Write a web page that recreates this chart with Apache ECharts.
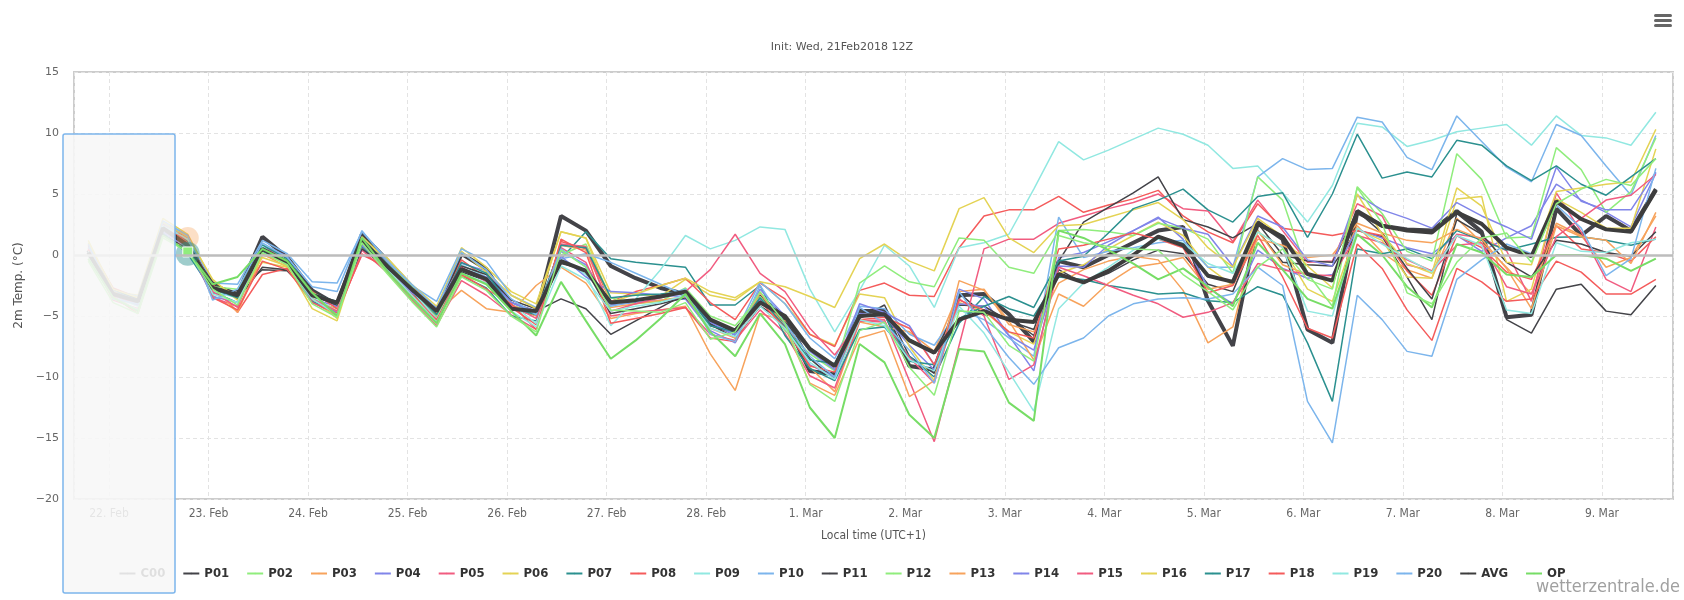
<!DOCTYPE html>
<html>
<head>
<meta charset="utf-8">
<script src="https://cdn.jsdelivr.net/npm/echarts@6/dist/echarts.min.js"></script>
<style>
  html, body { margin: 0; padding: 0; background: #fff; }
  #chartContainer { width: 1684px; height: 600px; }
</style>
</head>
<body>
<div id="chartContainer"></div>
<script>
// 6-hourly steps, first one 21 Feb 19:00 local (UTC+1)
var startTime = Date.UTC(2018, 1, 21, 19, 0);
var stepHours = 6;
var monthNames = ['Jan','Feb','Mar','Apr','May','Jun','Jul','Aug','Sep','Oct','Nov','Dec'];

var seriesNames = ['C00','P01','P02','P03','P04','P05','P06','P07','P08','P09','P10',
                   'P11','P12','P13','P14','P15','P16','P17','P18','P19','P20','AVG','OP'];
var seriesColors = ['#434348','#434348','#90ed7d','#f7a35c','#8085e9','#f15c80','#e4d354','#2b908f','#f45b5b','#91e8e1','#7cb5ec',
                    '#434348','#90ed7d','#f7a35c','#8085e9','#f15c80','#e4d354','#2b908f','#f45b5b','#91e8e1','#7cb5ec','#3d3d3d','#77dd66'];

var c00 = [0.4,-3.0,-3.8,2.1,1.0,-2.5,-3.2,1.5,-0.2,-2.9, -4.1,1.7,-0.4,-2.6,-4.85,0.1,-1.15,-4.3,-4.85,3.2, 2.0,-0.9,-1.9,-2.7,-3.2,-5.6,-6.4,-3.6,-5.3,-9.5, -9.8,-4.6,-4.6,-9.1,-9.4,-3.3,-3.2,-4.85,-7.1,-0.5, -1.0,0.0,1.0,2.0,2.3,-3.75,-7.45,2.7,1.3,-6.1, -7.2,3.5,2.4,2.1,2.0,3.6,1.9,-5.1,-4.9,3.8, 1.6,3.2,2.0,5.4];
var p01 = [0.0,-3.1,-3.9,1.7,0.5,-3.2,-2.9,-1.2,-1.3,-3.4, -3.9,0.8,-1.0,-2.9,-4.8,-1.4,-2.1,-3.9,-4.6,-3.6, -4.4,-6.5,-5.4,-4.3,-3.2,-5.8,-6.4,-3.3,-5.0,-8.5, -10.2,-5.2,-4.1,-8.3,-9.7,-3.1,-4.9,-5.1,-6.6,-1.2, -2.3,-1.5,-0.4,0.4,0.1,-2.4,-3.0,2.0,-0.6,-0.8, -0.9,2.0,1.5,-1.8,-5.3,3.4,1.8,-5.3,-6.4,-2.8, -2.4,-4.6,-4.9,-2.5];
var p02 = [-0.5,-3.9,-4.8,1.4,0.25,-2.8,-4.1,0.2,-0.8,-4.0, -5.1,1.0,-1.5,-3.8,-5.9,-1.8,-2.9,-5.0,-6.3,0.4, -1.0,-4.5,-4.6,-4.7,-3.9,-6.9,-6.3,-3.0,-5.6,-10.6, -12.0,-6.2,-5.5,-9.2,-11.5,-4.6,-4.7,-7.4,-8.7,1.6, 1.0,0.7,0.5,0.4,-1.6,-3.0,-4.5,-1.0,0.5,-2.0, -2.8,5.5,2.6,-3.1,-4.0,-0.6,1.4,1.8,-0.6,4.2, 5.4,6.2,5.7,7.9];
var p03 = [0.6,-3.3,-4.6,2.6,1.4,-3.3,-4.6,0.1,-1.0,-3.7, -4.4,0.6,-1.2,-3.0,-4.7,-2.9,-4.4,-4.7,-2.5,-1.0, -2.3,-5.2,-4.8,-4.5,-4.2,-8.1,-11.1,-4.8,-5.4,-9.2, -11.2,-5.5,-5.9,-6.3,-7.9,-3.0,-2.8,-5.7,-6.3,-2.3, -1.2,-0.5,-0.1,-0.4,-2.9,-7.2,-5.9,2.0,-0.8,-1.6, -2.1,2.4,0.2,-1.2,-1.9,3.0,1.0,-1.0,-3.2,2.6, 1.6,-1.0,-0.2,3.2];
var p04 = [0.7,-2.9,-3.7,2.1,1.2,-3.1,-3.3,0.8,-0.1,-3.6, -4.2,1.4,-0.6,-2.7,-4.4,-0.7,-1.3,-3.9,-4.8,0.3, -0.8,-4.1,-3.9,-3.7,-3.6,-6.2,-7.2,-3.6,-5.7,-9.0, -10.0,-4.8,-5.0,-7.4,-9.4,-2.8,-3.6,-6.6,-9.5,-0.2, 0.2,1.1,2.0,3.1,1.3,-2.7,-4.0,0.4,-1.1,-1.9, -1.6,2.1,1.4,0.6,0.1,1.6,0.3,1.4,2.4,5.8, 4.5,3.5,2.3,6.7];
var p05 = [0.1,-3.7,-4.4,2.0,1.4,-3.5,-4.2,0.6,-0.9,-3.8, -5.0,0.4,-1.4,-3.7,-5.8,-2.1,-3.3,-4.9,-6.1,0.6, -0.6,-5.0,-4.7,-4.5,-4.3,-6.5,-7.0,-4.5,-6.4,-9.9, -10.9,-5.4,-5.3,-10.3,-15.3,-7.4,0.5,1.3,1.3,2.6, 3.2,3.8,4.3,5.0,3.8,3.6,1.1,4.5,2.0,-0.6, -0.5,4.2,3.2,-0.8,-1.3,1.7,1.4,0.35,-3.8,5.1, 1.9,-2.0,-3.0,2.3];
var p06 = [1.2,-3.0,-3.3,3.0,1.7,-2.2,-3.4,-0.6,-1.0,-3.5, -5.2,1.5,-0.4,-2.6,-4.5,0.6,-1.0,-3.0,-4.0,1.9, 1.4,-3.1,-3.2,-3.4,-2.0,-3.3,-3.7,-2.2,-4.0,-6.5, -7.4,-3.2,-3.5,-7.5,-10.3,-3.9,-4.6,-6.3,-7.3,-1.5, -0.8,0.5,1.6,2.7,1.6,-1.0,-2.5,1.9,0.6,-2.8, -3.8,2.1,1.2,-1.8,-1.9,4.6,4.8,-3.8,-2.8,4.6, 3.5,2.2,2.2,8.7];
var p07 = [0.0,-2.9,-3.6,1.8,0.1,-3.0,-3.9,0.3,-0.7,-3.8, -4.7,0.7,-1.2,-3.1,-5.1,-1.7,-2.7,-5.0,-5.4,-0.3, 1.9,-0.3,-0.6,-0.8,-1.0,-4.1,-4.1,-2.5,-6.6,-9.3, -10.3,-6.1,-5.9,-8.3,-10.0,-5.6,-3.4,-4.4,-5.0,-1.8, -2.0,-2.5,-2.8,-3.2,-3.1,-3.75,-3.9,-2.6,-3.3,-7.2, -12.0,0.5,0.1,0.5,-0.3,2.0,1.2,0.4,0.9,1.45, 1.5,1.2,0.8,1.3];
var p08 = [0.8,-2.7,-3.5,2.0,1.6,-2.4,-4.7,-1.6,-1.1,-3.0, -4.4,0.9,-0.6,-3.2,-5.1,-0.4,-1.9,-4.3,-5.7,1.1, 0.5,-3.8,-3.0,-2.5,-1.9,-3.9,-5.3,-2.3,-3.6,-6.5, -7.5,-2.9,-2.3,-3.3,-3.4,0.6,3.2,3.7,3.7,4.8, 3.5,4.1,4.6,5.3,3.2,1.9,1.0,4.2,2.2,1.9, 1.6,2.0,1.6,-1.3,-3.3,1.6,0.6,-1.4,-2.0,2.4, 0.5,0.2,-0.5,1.5];
var p09 = [0.0,-3.4,-4.2,2.0,1.2,-3.0,-3.5,0.9,-0.5,-3.4, -4.6,1.4,-0.8,-2.9,-5.2,-0.8,-1.8,-4.0,-5.6,-0.2, -1.6,-5.8,-3.6,-1.2,1.6,0.5,1.2,2.3,2.1,-2.8, -6.3,-2.9,0.8,-0.9,-4.3,0.6,1.0,1.7,5.4,9.3, 7.8,8.6,9.5,10.4,9.9,9.0,7.1,7.3,5.1,2.7, 5.7,10.8,10.5,8.9,9.4,10.1,10.4,10.7,9.0,11.4, 9.8,9.6,9.0,11.7];
var p10 = [0.6,-2.9,-3.4,2.6,1.5,-2.3,-2.4,1.2,0.1,-2.2, -2.3,1.9,-0.3,-2.5,-3.8,0.5,-0.5,-3.3,-4.3,-0.3, 0.1,-0.6,-1.5,-2.4,-3.3,-5.5,-6.5,-2.2,-4.0,-6.8, -8.5,-4.2,-4.4,-6.5,-7.4,-4.5,-5.3,-6.8,-8.3,3.1, -0.2,0.3,0.6,1.0,1.2,-1.0,-1.0,6.4,7.9,7.0, 7.1,11.3,10.9,8.0,7.0,11.4,9.3,7.2,6.0,10.7, 9.8,7.3,4.9,9.8];
var p11 = [0.3,-2.8,-3.6,1.9,0.7,-2.2,-3.6,-1.0,-1.2,-3.3, -4.1,0.5,-1.0,-3.0,-4.5,-0.9,-1.6,-3.7,-4.4,-0.7, -1.2,-4.8,-4.4,-4.0,-3.5,-5.7,-6.8,-4.2,-5.5,-7.8, -9.1,-5.1,-4.7,-6.9,-8.0,-4.1,-4.2,-5.4,-6.1,-0.5, 2.7,3.9,5.1,6.4,2.9,2.3,1.4,2.6,0.0,-0.5, -0.6,3.6,1.8,-1.1,-3.6,2.9,1.7,-0.6,-1.8,1.2, 0.9,0.2,-0.1,1.9];
var p12 = [0.1,-3.2,-4.0,2.3,0.9,-2.6,-2.8,0.4,-0.4,-3.1, -4.0,1.3,-0.7,-2.6,-5.0,-1.2,-1.9,-4.1,-4.8,0.0, 0.9,-3.5,-4.0,-3.8,-2.7,-5.0,-5.8,-3.4,-6.2,-8.1, -9.5,-2.3,-0.9,-2.2,-2.6,1.4,1.2,-1.0,-1.5,2.0, 2.1,1.9,1.6,2.6,2.2,1.3,-1.5,6.4,4.5,-1.5, -4.2,5.6,3.4,0.3,-0.5,8.3,6.2,1.4,1.5,8.8, 7.0,3.5,5.2,9.6];
var p13 = [0.4,-3.0,-4.0,2.2,1.1,-2.6,-4.7,0.0,-0.6,-3.6, -4.6,1.0,-0.8,-3.3,-5.4,-1.7,-2.3,-4.1,-5.0,0.8, 0.4,-4.3,-4.0,-3.7,-3.4,-6.0,-6.8,-3.1,-5.9,-10.5, -11.5,-6.8,-6.2,-11.6,-10.3,-2.1,-2.9,-5.4,-8.6,-3.2, -4.2,-2.3,-1.0,-0.7,-0.2,-2.8,-2.4,1.3,0.8,-0.2, 0.0,2.6,1.8,1.2,1.0,2.1,1.3,-1.1,-4.4,2.4, 1.5,1.2,-0.7,3.5];
var p14 = [0.2,-3.3,-4.1,1.9,0.6,-3.4,-3.9,0.4,-0.5,-3.9, -4.7,0.8,-1.1,-3.1,-4.3,-1.1,-1.8,-3.9,-4.6,-0.1, -1.8,-3.0,-3.1,-3.3,-3.4,-5.5,-6.6,-2.8,-5.0,-7.9, -9.4,-4.0,-4.7,-5.8,-9.0,-4.0,-4.2,-6.6,-7.8,-0.9, -1.0,0.8,2.0,3.0,2.2,1.7,-0.9,3.2,2.3,-0.4, -0.9,4.9,3.7,3.0,2.2,4.3,3.2,2.3,1.3,7.2, 4.4,3.7,3.7,6.8];
var p15 = [0.5,-3.3,-4.0,2.5,1.1,-3.0,-4.3,0.8,-0.6,-3.6, -4.6,0.0,-0.9,-3.5,-5.5,-1.0,-2.2,-4.1,-5.2,0.9, 0.7,-4.6,-4.0,-3.5,-3.0,-1.2,1.7,-1.5,-3.0,-6.0, -8.2,-5.4,-5.5,-8.4,-10.5,-3.6,-5.0,-10.2,-9.0,-1.0, -1.7,-2.5,-3.3,-4.0,-5.1,-4.7,-3.9,-0.7,-1.2,-1.6, -1.7,1.6,1.0,-0.4,-1.3,0.8,1.0,-2.6,-3.2,1.5, 3.0,4.5,4.9,6.6];
var p16 = [1.0,-2.8,-3.5,2.7,1.5,-2.0,-3.7,-0.2,-0.9,-4.4, -5.4,1.1,-0.2,-2.4,-4.2,0.3,-1.4,-3.3,-4.4,1.9, 1.4,-3.9,-3.2,-2.5,-1.9,-3.0,-3.5,-2.2,-2.6,-3.4, -4.3,-0.3,0.9,-0.5,-1.3,3.8,4.7,1.4,0.2,2.4, 2.5,3.1,3.7,4.3,2.9,0.6,-1.0,3.0,1.5,-0.9, -2.7,5.0,1.7,-0.7,-1.5,5.5,4.0,-0.6,-0.8,5.2, 5.5,5.8,6.0,10.3];
var p17 = [0.2,-3.1,-3.9,2.2,1.1,-2.8,-3.5,0.8,-0.3,-3.2, -3.8,1.3,-0.7,-2.8,-4.9,-0.6,-1.5,-4.3,-4.9,0.8, 0.6,-3.5,-3.3,-3.2,-3.0,-5.8,-6.3,-3.5,-5.9,-8.6, -8.9,-4.9,-4.9,-8.7,-9.0,-5.2,-4.2,-3.4,-4.3,-0.5, -0.1,1.8,3.8,4.5,5.4,3.7,2.7,4.8,5.1,1.45, 5.0,9.9,6.3,6.8,6.4,9.4,9.0,7.3,6.1,7.3, 5.8,4.9,6.4,7.9];
var p18 = [0.4,-3.4,-4.8,2.4,1.0,-3.5,-4.5,-0.5,-1.2,-3.9, -4.8,0.1,-1.1,-3.4,-5.3,-1.6,-2.8,-4.0,-6.1,1.3, 0.2,-5.6,-5.2,-4.8,-4.3,-6.8,-7.1,-3.8,-6.0,-9.1, -9.6,-5.3,-5.1,-6.0,-9.0,-3.7,-4.5,-6.3,-6.8,0.5, 0.8,1.3,1.8,1.3,0.6,-3.1,-2.5,1.6,-1.8,-6.0, -6.8,0.9,-1.1,-4.5,-7.0,-1.1,-2.2,-3.8,-3.6,-0.5, -1.4,-3.2,-3.2,-2.0];
var p19 = [0.3,-3.5,-4.5,2.4,1.3,-3.2,-3.9,0.7,-0.8,-3.6, -4.9,1.0,-1.1,-3.3,-5.5,-1.5,-2.3,-4.6,-5.9,-0.9, -2.0,-4.6,-4.2,-3.9,-3.3,-6.0,-6.7,-4.2,-6.0,-8.8, -10.2,-5.3,-5.8,-8.6,-9.5,-4.2,-6.4,-9.6,-12.8,-4.4, -2.3,-1.0,0.4,1.3,1.0,-0.7,-1.5,1.9,0.6,-4.6, -5.0,2.2,0.9,-0.3,-1.4,1.6,0.8,-4.5,-4.8,1.0, 0.3,0.2,1.0,1.3];
var p20 = [0.9,-3.6,-4.0,2.8,1.6,-3.7,-2.8,1.0,-0.2,-2.6, -3.0,2.0,-0.5,-2.4,-4.4,0.2,-1.2,-3.6,-4.9,0.5, -1.0,-4.2,-3.8,-3.4,-2.8,-6.5,-7.1,-2.5,-5.6,-8.3, -10.0,-4.3,-5.6,-7.8,-10.5,-3.0,-5.8,-8.4,-10.6,-7.6, -6.8,-5.0,-4.0,-3.6,-3.5,-3.6,-3.2,-1.0,-2.5,-12.0, -15.4,-3.3,-5.3,-7.9,-8.3,-2.0,-0.4,0.9,0.1,4.1, 2.2,-1.7,-0.3,7.1];
var avg = [0.2,-3.2,-3.8,2.2,0.8,-2.7,-3.3,0.5,-0.6,-3.3, -3.9,1.2,-0.9,-2.8,-4.6,-1.15,-1.97,-4.4,-4.6,-0.5, -1.3,-3.9,-3.7,-3.4,-3.0,-5.3,-6.2,-3.9,-5.0,-7.7, -9.1,-5.0,-4.85,-7.0,-8.0,-5.3,-4.6,-5.3,-5.5,-1.56, -2.25,-1.3,0.0,1.5,0.8,-1.7,-2.2,2.55,1.5,-1.56, -2.1,3.6,2.4,2.0,1.85,3.5,2.55,0.6,-0.1,4.4, 2.95,2.1,1.9,5.3];
var op  = [-0.3,-3.5,-4.6,1.6,0.3,-2.4,-1.8,0.5,-0.5,-3.1, -5.0,1.4,-1.3,-3.5,-5.6,-1.5,-2.4,-4.6,-6.6,-2.2, -5.4,-8.5,-7.0,-5.2,-3.2,-6.3,-8.3,-4.8,-7.3,-12.5, -15.0,-7.3,-8.8,-13.1,-15.0,-7.7,-7.9,-12.1,-13.6,2.0, 1.4,0.4,-0.7,-2.0,-1.1,-2.6,-4.2,1.0,-1.2,-3.6, -4.4,1.7,0.0,-2.6,-4.3,0.9,0.2,-1.6,-1.8,0.0, 0.0,-0.3,-1.3,-0.3];

var yTicks = [-20, -15, -10, -5, 0, 5, 10, 15];

var seriesValues = [c00,p01,p02,p03,p04,p05,p06,p07,p08,p09,p10,p11,p12,p13,p14,p15,p16,p17,p18,p19,p20,avg,op];

// the hovered point (tooltip position) in the screenshot
var hoverIndex = 4;

var narrow = "'Liberation Sans Narrow','DejaVu Sans Condensed','Roboto Condensed',sans-serif";

var times = [];
for (var i = 0; i < c00.length; i++) {
    times.push(startTime + i * stepHours * 3600000);
}

var series = [];
for (var k = 0; k < seriesNames.length; k++) {
    var name = seriesNames[k];
    var w = 1.5;
    if (name === 'C00' || name === 'AVG') w = 4;
    if (name === 'OP') w = 2;
    var data = seriesValues[k].map(function (v, i) { return [times[i], v]; });

    if (name === 'P03') {
        data[hoverIndex] = {value: data[hoverIndex], symbol: 'circle', symbolSize: 22,
            itemStyle: {color: 'rgba(247,163,92,0.35)'}};
    }
    if (name === 'P07') {
        data[hoverIndex] = {value: data[hoverIndex], symbol: 'circle', symbolSize: 24,
            itemStyle: {color: 'rgba(43,144,143,0.45)'}};
    }
    if (name === 'P02') {
        data[hoverIndex] = {value: data[hoverIndex], symbol: 'rect', symbolSize: 10,
            itemStyle: {color: '#90ed7d', borderColor: '#ffffff', borderWidth: 1}};
    }

    var s = {
        name: name,
        type: 'line',
        data: data,
        symbol: 'none',
        showSymbol: true,
        color: seriesColors[k],
        lineStyle: {width: w, color: seriesColors[k]},
        itemStyle: {color: seriesColors[k]},
        emphasis: {disabled: true},
        silent: true,
        z: name === 'P02' ? 3 : 2
    };
    if (k === 0) {
        s.markLine = {
            silent: true,
            symbol: 'none',
            label: {show: false},
            lineStyle: {color: '#bdbdbd', width: 2.5, type: 'solid'},
            data: [{yAxis: 0}]
        };
    }
    series.push(s);
}

var option = {
    useUTC: true,
    animation: false,
    backgroundColor: '#ffffff',
    title: {
        text: 'Init: Wed, 21Feb2018 12Z',
        left: 'center',
        top: 37,
        textStyle: {fontSize: 11, fontWeight: 'normal', color: '#555555', fontFamily: 'DejaVu Sans'}
    },
    grid: {
        left: 74,
        right: 11,
        top: 72,
        bottom: 101,
        show: true,
        borderColor: '#cccccc',
        borderWidth: 2
    },
    legend: {
        data: seriesNames,
        left: 'center',
        top: 562,
        itemWidth: 16,
        itemHeight: 2,
        itemGap: 17,
        textStyle: {fontSize: 13, fontWeight: 'bold', color: '#333333', fontFamily: narrow}
    },
    xAxis: {
        type: 'time',
        min: Date.UTC(2018, 1, 21, 15, 34),
        max: Date.UTC(2018, 2, 9, 17, 8),
        minInterval: 86400000,
        maxInterval: 86400000,
        name: 'Local time (UTC+1)',
        nameLocation: 'middle',
        nameGap: 31,
        nameTextStyle: {fontSize: 12, color: '#555555', fontFamily: narrow},
        axisLine: {show: false},
        axisTick: {show: false},
        axisLabel: {
            color: '#666666',
            fontSize: 12,
            fontFamily: narrow,
            margin: 9,
            showMinLabel: false,
            showMaxLabel: false,
            formatter: function (val) {
                var d = new Date(val);
                return d.getUTCDate() + '. ' + monthNames[d.getUTCMonth()];
            }
        },
        splitLine: {show: true, lineStyle: {color: '#e3e3e3', type: [4, 3], width: 1}}
    },
    yAxis: {
        type: 'value',
        min: yTicks[0],
        max: yTicks[yTicks.length - 1],
        interval: 5,
        name: '2m Temp. (°C)',
        nameLocation: 'middle',
        nameGap: 39,
        nameTextStyle: {fontSize: 12, color: '#555555', fontFamily: 'DejaVu Sans'},
        axisLine: {show: false},
        axisTick: {show: false},
        axisLabel: {
            color: '#666666',
            fontSize: 11,
            fontFamily: 'DejaVu Sans',
            margin: 15,
            formatter: function (v) { return String(v).replace('-', '\u2212'); }
        },
        splitLine: {show: true, lineStyle: {color: '#e3e3e3', type: [4, 3], width: 1}}
    },
    graphic: [
        {
            type: 'rect',
            z: 100,
            silent: true,
            shape: {x: 63, y: 134, width: 112, height: 459, r: 2},
            style: {fill: 'rgba(247,247,247,0.88)', stroke: '#7cb5ec', lineWidth: 1.5}
        },
        {
            type: 'text',
            right: 4,
            bottom: 4,
            z: 100,
            style: {text: 'wetterzentrale.de', fill: '#a0a0a0', font: '18px ' + narrow}
        },
        {
            type: 'group',
            right: 12,
            top: 14,
            z: 100,
            children: [
                {type: 'rect', shape: {x: 0, y: 0, width: 18, height: 3, r: 1.5}, style: {fill: '#666666'}},
                {type: 'rect', shape: {x: 0, y: 5, width: 18, height: 3, r: 1.5}, style: {fill: '#666666'}},
                {type: 'rect', shape: {x: 0, y: 10, width: 18, height: 3, r: 1.5}, style: {fill: '#666666'}}
            ]
        }
    ],
    series: series
};

var chartDom = document.getElementById('chartContainer');
var chart = echarts.init(chartDom);
chart.setOption(option, true);
</script>
</body>
</html>
